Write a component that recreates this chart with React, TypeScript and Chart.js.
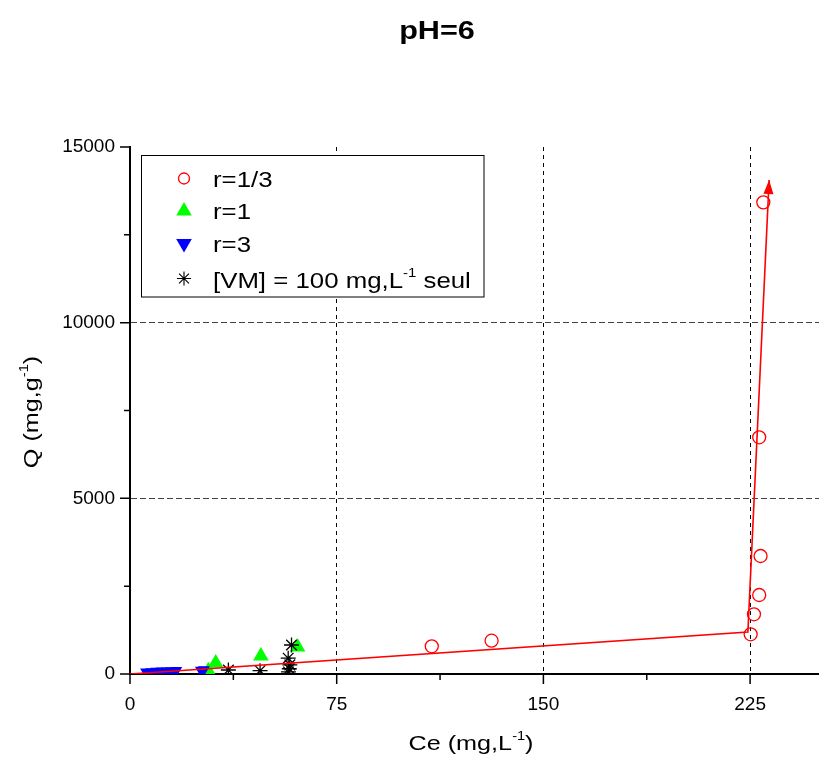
import React, { useEffect, useRef } from 'react';
import { Chart, registerables } from 'chart.js';
Chart.register(...registerables);

// ---- data ----
const TITLE = 'pH=6';
const X_TICKS = [0, 75, 150, 225];
const X_MINOR = [37.5, 112.5, 187.5];
const Y_TICKS = [0, 5000, 10000, 15000];
const Y_MINOR = [2500, 7500, 12500];

const r13X = [109.5, 131.2, 225.2, 226.4, 228.3, 228.8, 228.3, 229.8];
const r13Y = [788, 948, 1130, 1699, 2248, 3358, 6737, 13425];
const r1X = [28.4, 31.1, 47.5, 60.8];
const r1Y = [90, 310, 510, 770];
const r3X = [5.8, 7.6, 9.5, 11.4, 13.3, 15.1, 16.8, 25.7, 26.8];
const r3Y = [60, 70, 80, 85, 90, 95, 100, 110, 125];
const vmX = [35.7, 47.2, 57.5, 57.8, 58.0, 57.4, 58.6];
const vmY = [114, 94, 60, 150, 260, 450, 825];
const fitX = [0, 224.2, 231.9];
const fitY = [0, 1195, 14060];

const LEGEND_LABELS = ['r=1/3', 'r=1', 'r=3', '[VM] = 100 mg,L|-1| seul'];

const FONT = "'Liberation Sans', Arial, Helvetica, sans-serif";
const SX = 1.2;

const zip = (xs: number[], ys: number[]) => xs.map((x, i) => ({ x, y: ys[i] }));

type Part = { t: string; sup?: boolean };
const parse = (s: string): Part[] =>
  s.split('|').map((t, i) => ({ t, sup: i % 2 === 1 })).filter((p) => p.t.length);

function drawRich(ctx: CanvasRenderingContext2D, text: string, x: number, y: number, size: number, align: 'left' | 'center', bold = false, rot = 0) {
  const parts = parse(text);
  const w8 = bold ? 'bold ' : '';
  const supSize = size * 0.58;
  let total = 0;
  const widths = parts.map((p) => {
    ctx.font = `${w8}${p.sup ? supSize : size}px ${FONT}`;
    const w = ctx.measureText(p.t).width;
    total += w;
    return w;
  });
  ctx.save();
  ctx.translate(x, y);
  if (rot) ctx.rotate(rot);
  ctx.scale(SX, 1);
  ctx.fillStyle = '#000';
  ctx.textBaseline = 'alphabetic';
  ctx.textAlign = 'left';
  let cx = align === 'center' ? -total / 2 : 0;
  parts.forEach((p, i) => {
    ctx.font = `${w8}${p.sup ? supSize : size}px ${FONT}`;
    ctx.fillText(p.t, cx, p.sup ? -size * 0.5 : 0);
    cx += widths[i];
  });
  ctx.restore();
}

function marker(ctx: CanvasRenderingContext2D, kind: number, x: number, y: number) {
  ctx.save();
  ctx.beginPath();
  if (kind === 0) {
    ctx.strokeStyle = '#ff0000';
    ctx.lineWidth = 1.3;
    ctx.arc(x, y, 5.5, 0, Math.PI * 2);
    ctx.stroke();
  } else if (kind === 1 || kind === 2) {
    const r = 9;
    const s = kind === 1 ? 1 : -1;
    ctx.fillStyle = kind === 1 ? '#00ff00' : '#0000ff';
    ctx.moveTo(x, y - s * r);
    ctx.lineTo(x + r * 0.866, y + s * r * 0.5);
    ctx.lineTo(x - r * 0.866, y + s * r * 0.5);
    ctx.closePath();
    ctx.fill();
  } else {
    const r = 7;
    ctx.strokeStyle = '#000';
    ctx.lineWidth = 1.1;
    for (let k = 0; k < 4; k++) {
      const a = (k * Math.PI) / 4;
      ctx.moveTo(x - Math.cos(a) * r, y - Math.sin(a) * r);
      ctx.lineTo(x + Math.cos(a) * r, y + Math.sin(a) * r);
    }
    ctx.stroke();
  }
  ctx.restore();
}

const decorPlugin = {
  id: 'decor',
  afterDraw(chart: any) {
    const ctx = chart.ctx as CanvasRenderingContext2D;
    const xs = chart.scales.x;
    const ys = chart.scales.y;
    const area = chart.chartArea;

    // tick marks
    ctx.save();
    ctx.strokeStyle = '#000';
    ctx.lineWidth = 1.5;
    ctx.beginPath();
    X_TICKS.forEach((v) => { const p = xs.getPixelForValue(v); ctx.moveTo(p, area.bottom); ctx.lineTo(p, area.bottom + 10); });
    X_MINOR.forEach((v) => { const p = xs.getPixelForValue(v); ctx.moveTo(p, area.bottom); ctx.lineTo(p, area.bottom + 6); });
    Y_TICKS.forEach((v) => { const p = ys.getPixelForValue(v); ctx.moveTo(area.left, p); ctx.lineTo(area.left - 10, p); });
    Y_MINOR.forEach((v) => { const p = ys.getPixelForValue(v); ctx.moveTo(area.left, p); ctx.lineTo(area.left - 6, p); });
    ctx.stroke();
    ctx.restore();

    // arrow head on fit line
    const n = fitX.length;
    const tx = xs.getPixelForValue(fitX[n - 1]);
    const ty = ys.getPixelForValue(fitY[n - 1]);
    const bx = xs.getPixelForValue(fitX[n - 2]);
    const by = ys.getPixelForValue(fitY[n - 2]);
    const len = Math.hypot(tx - bx, ty - by);
    const ux = (tx - bx) / len, uy = (ty - by) / len;
    const L = 14, W = 5;
    ctx.save();
    ctx.fillStyle = '#ff0000';
    ctx.beginPath();
    ctx.moveTo(tx, ty);
    ctx.lineTo(tx - ux * L - uy * W, ty - uy * L + ux * W);
    ctx.lineTo(tx - ux * L + uy * W, ty - uy * L - ux * W);
    ctx.closePath();
    ctx.fill();
    ctx.restore();

    // legend
    const lx = 141.5, ly = 155.5, lw = 342.5, lh = 141.5;
    ctx.save();
    ctx.fillStyle = '#fff';
    ctx.fillRect(lx, ly, lw, lh);
    ctx.strokeStyle = '#000';
    ctx.lineWidth = 1;
    ctx.strokeRect(lx, ly, lw, lh);
    ctx.restore();
    const rowsY = [178.5, 211, 243.5, 278.5];
    const baseY = [186.7, 218.8, 251.7, 287.5];
    LEGEND_LABELS.forEach((lab, i) => {
      marker(ctx, i, 184, rowsY[i]);
      drawRich(ctx, lab, 213, baseY[i], 21.5, 'left');
    });

    // title & axis titles
    drawRich(ctx, TITLE, 437, 39, 25.5, 'center', true);
    drawRich(ctx, 'Ce (mg,L|-1|)', 471, 750, 21, 'center');
    drawRich(ctx, 'Q (mg,g|-1|)', 38, 412, 21, 'center', false, -Math.PI / 2);
  },
};

export default function App() {
  const ref = useRef<HTMLCanvasElement | null>(null);
  useEffect(() => {
    document.body.style.margin = '0';
    const canvas = ref.current!;
    const chart = new Chart(canvas, {
      type: 'scatter',
      data: {
        datasets: [
          {
            type: 'line', label: 'fit', data: zip(fitX, fitY), borderColor: '#ff0000', borderWidth: 1.6,
            pointRadius: 0, showLine: true, fill: false, tension: 0, order: 0,
          } as any,
          {
            label: 'r=1/3', data: zip(r13X, r13Y), pointStyle: 'circle', pointRadius: 6.5,
            borderColor: '#ff0000', backgroundColor: 'rgba(0,0,0,0)', pointBorderWidth: 1.3, order: 1,
          },
          {
            label: '[VM]', data: zip(vmX, vmY), pointStyle: 'star', pointRadius: 7.5,
            borderColor: '#000', backgroundColor: '#000', pointBorderWidth: 1.3, order: 2,
          },
          {
            label: 'r=3', data: zip(r3X, r3Y), pointStyle: 'triangle', rotation: 180, pointRadius: 6.8,
            borderColor: '#0000ff', backgroundColor: '#0000ff', pointBorderWidth: 0, order: 3,
          } as any,
          {
            label: 'r=1', data: zip(r1X, r1Y), pointStyle: 'triangle', pointRadius: 9,
            borderColor: '#00ff00', backgroundColor: '#00ff00', pointBorderWidth: 0, order: 4,
          },
        ],
      },
      options: {
        animation: false,
        responsive: false,
        devicePixelRatio: 1,
        layout: { autoPadding: false, padding: { top: 147, left: 0, right: 0, bottom: 0 } },
        plugins: { legend: { display: false }, title: { display: false }, tooltip: { enabled: false } },
        scales: {
          x: {
            type: 'linear', min: 0, max: 250,
            afterFit: (s: any) => { s.height = 91; s.paddingLeft = 0; s.paddingRight = 0; },
            ticks: {
              stepSize: 37.5, autoSkip: false, maxRotation: 0, padding: 19, color: '#000',
              font: { family: FONT, size: 19 },
              callback: (v: any) => (X_TICKS.includes(Number(v)) ? String(v) : null),
            },
            grid: {
              drawTicks: false, lineWidth: 1,
              color: (c: any) => ([75, 150, 225].includes(c.tick?.value) ? '#000' : 'rgba(0,0,0,0)'),
            },
            border: { display: true, color: '#000', width: 2, dash: [4, 4] },
          },
          y: {
            type: 'linear', min: 0, max: 15000,
            afterFit: (s: any) => { s.width = 130; s.paddingTop = 0; s.paddingBottom = 0; },
            ticks: {
              stepSize: 2500, autoSkip: false, padding: 15, color: '#000',
              font: { family: FONT, size: 19 },
              callback: (v: any) => (Y_TICKS.includes(Number(v)) ? String(v) : null),
            },
            grid: {
              drawTicks: false, lineWidth: 1,
              color: (c: any) => ([5000, 10000].includes(c.tick?.value) ? '#444' : 'rgba(0,0,0,0)'),
            },
            border: { display: true, color: '#000', width: 2, dash: [6, 3] },
          },
        },
      } as any,
      plugins: [decorPlugin],
    });
    return () => chart.destroy();
  }, []);
  return (
    <div style={{ position: 'fixed', left: 0, top: 0, width: 819, height: 765, background: '#fff' }}>
      <canvas ref={ref} width={819} height={765} style={{ width: 819, height: 765, display: 'block' }} />
    </div>
  );
}
